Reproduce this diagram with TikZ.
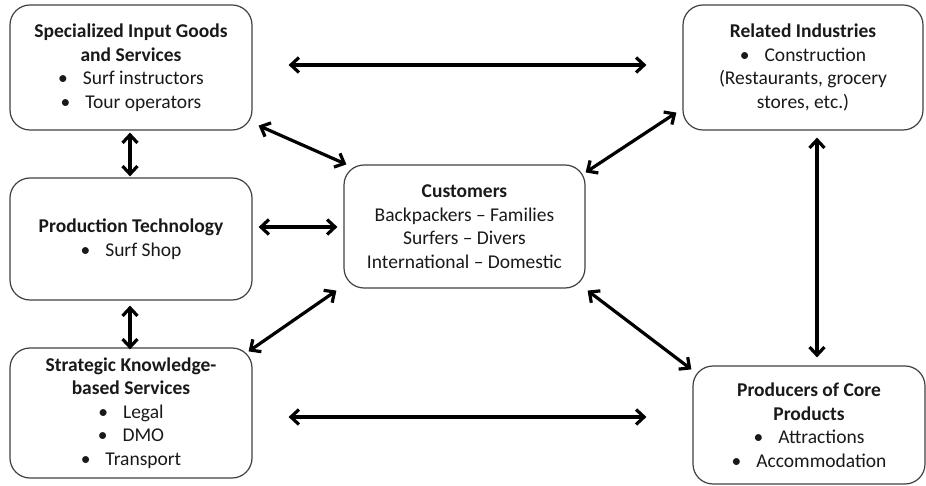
\documentclass[tikz,border=0pt]{standalone}
\usepackage{fontspec}
\setmainfont{Carlito}
\usetikzlibrary{arrows.meta}
\definecolor{boxline}{gray}{0.25}
\definecolor{txt}{gray}{0.1}
\tikzset{
  box/.style={draw=boxline, line width=1.2pt, rounded corners=20pt, inner sep=0pt,
    align=center, text=txt, font=\fontsize{19.5}{23.5}\selectfont},
  tipb/.tip={Straight Barb[length=8pt,width=15pt,line width=3.2pt]},
  arr/.style={line width=3.2pt, tipb-tipb},
  arrb/.style={arr, line width=3.8pt},
}
\newcommand{\bul}{•\hspace{15pt}}
\begin{document}
\begin{tikzpicture}[x=1pt,y=-1pt]
\useasboundingbox (0,0) rectangle (926,486);
\node[box, minimum width=242pt, minimum height=125pt] (s1) at (131,67.5)
  {\textbf{Specialized Input Goods}\\\textbf{and Services}\\\bul Surf instructors\\\bul Tour operators};
\node[box, minimum width=242pt, minimum height=122pt] (s2) at (131,239)
  {\textbf{Production Technology}\\\bul Surf Shop};
\node[box, minimum width=242pt, minimum height=130pt] (s3) at (131,413)
  {\textbf{Strategic Knowledge-}\\\textbf{based Services}\\\bul Legal\\\bul DMO\\\bul Transport};
\node[box, minimum width=240pt, minimum height=125pt] (r) at (803,67.5)
  {\textbf{Related Industries}\\\bul Construction\\(Restaurants, grocery\\stores, etc.)};
\node[box, minimum width=232pt, minimum height=118pt] (p) at (809,425)
  {\textbf{Producers of Core}\\\textbf{Products}\\\bul Attractions\\\bul Accommodation};
\node[box, minimum width=241pt, minimum height=123pt] (c) at (464.5,226.5)
  {\textbf{Customers}\\Backpackers – Families\\Surfers – Divers\\International – Domestic};
% arrows
\draw[arr] ([xshift=36pt,yshift=2.5pt]s1.east) -- ([xshift=-36pt,yshift=2.5pt]r.west);
\draw[arr] ([xshift=36pt,yshift=-4pt]s3.east) -- ([xshift=-46pt,yshift=8pt]p.west);
\draw[arrb] ([xshift=-1pt,yshift=-2pt]s1.south) -- ([xshift=-1pt,yshift=1pt]s2.north);
\draw[arrb] ([xshift=-1pt,yshift=-5pt]s2.south) -- ([xshift=-1pt,yshift=-2pt]s3.north);
\draw[arr] ([xshift=6pt,yshift=5pt]s1.south east) -- ([xshift=3pt]c.north west);
\draw[arr] ([xshift=6pt,yshift=12pt]s2.east) -- ([xshift=-6pt,yshift=-0.5pt]c.west);
\draw[arr] ([xshift=-4pt,yshift=-4pt]s3.north east) -- ([xshift=-7pt,yshift=-2pt]c.south west);
\draw[arr] ([xshift=-6pt,yshift=18pt]r.south west) -- ([yshift=-8pt]c.north east);
\draw[arr] ([xshift=2pt,yshift=-2pt]c.south east) -- ([xshift=-1pt,yshift=-4pt]p.north west);
\draw[arr] ([xshift=14pt,yshift=-7pt]r.south) -- ([xshift=8pt,yshift=8pt]p.north);
\end{tikzpicture}
\end{document}
